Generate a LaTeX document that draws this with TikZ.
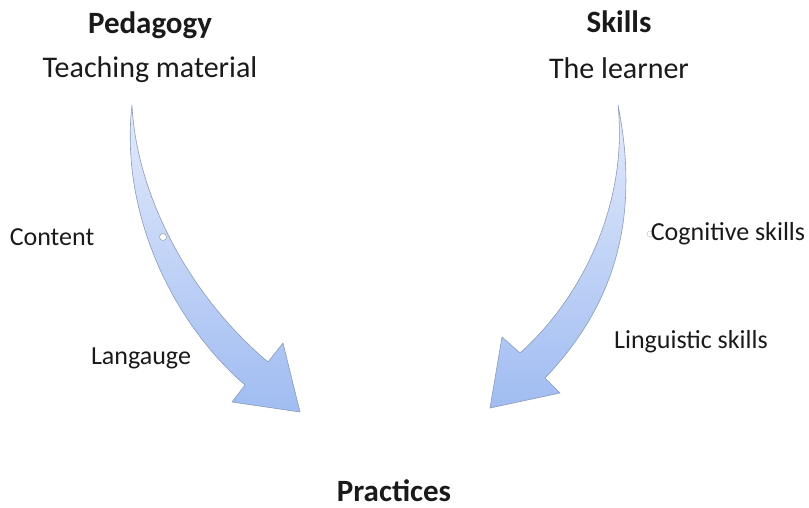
\documentclass[tikz,border=0pt]{standalone}
\usepackage{fontspec}
\setmainfont{Carlito}
\definecolor{txt}{HTML}{1A1A1A}
\definecolor{arTop}{HTML}{E3EBFB}
\definecolor{arBot}{HTML}{A0BCF2}
\definecolor{arLine}{HTML}{8C9BB5}
\tikzset{
  big/.style={font=\fontsize{30}{36}\selectfont, text=txt, inner sep=0pt},
  bigb/.style={font=\fontsize{31}{37}\selectfont\bfseries, text=txt, inner sep=0pt},
  small/.style={font=\fontsize{26}{31}\selectfont, text=txt, inner sep=0pt},
  curvearrow/.style={top color=arTop, bottom color=arBot, draw=arLine, line width=0.6pt, line join=round},
  dot/.style={circle, draw=gray!70, fill=white, line width=0.6pt, minimum size=7pt, inner sep=0pt}
}
\begin{document}
\begin{tikzpicture}[x=1pt,y=-1pt]
\useasboundingbox (0,0) rectangle (809,508);
% left curved arrow
\shade[curvearrow] (132,105) .. controls (120,210) and (170,320) .. (245,385)
  -- (232,402) -- (300,412) -- (283,343) -- (268,362)
  .. controls (185,292) and (136,190) .. (132,105) -- cycle;
% right curved arrow
\shade[curvearrow] (618,105) .. controls (642,225) and (610,310) .. (545,378)
  -- (560,393) -- (490,408) -- (502,337) -- (520,353)
  .. controls (585,295) and (628,200) .. (618,105) -- cycle;
\node[dot] (d1) at (163,237) {};
\node[dot, draw=gray!40, minimum size=6pt] (d2) at (650,234) {};
% texts
\node[bigb] (ped) at (150,25) {Pedagogy};
\node[big] (tm) at (150,70) {Teaching material};
\node[bigb] (sk) at (619,22) {Skills};
\node[big] (tl) at (619,68) {The learner};
\node[small] (co) at (52,237) {Content};
\node[small] (la) at (141,358) {Langauge};
\node[small] (cs) at (728,234) {Cognitive skills};
\node[small] (ls) at (691,342) {Linguistic skills};
\node[bigb] (pr) at (394,491) {Practices};
\end{tikzpicture}
\end{document}
